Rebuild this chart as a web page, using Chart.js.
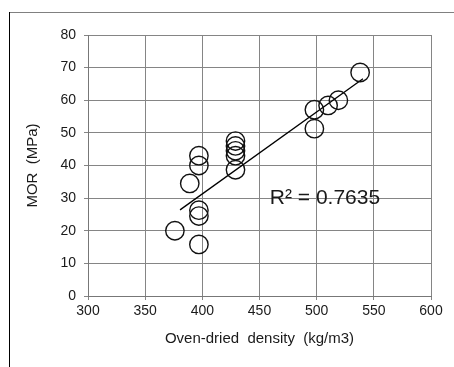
<!DOCTYPE html>
<html>
<head>
<meta charset="utf-8">
<script src="https://cdn.jsdelivr.net/npm/chart.js@4"></script>
<style>
  html, body { margin: 0; padding: 0; background: #fff; }
  #wrap { width: 454px; height: 367px; }
</style>
</head>
<body>
<div id="wrap"><canvas id="chart" width="454" height="367"></canvas></div>
<script>
// density (kg/m3) and MOR (MPa)
const density = [376, 389, 397, 397, 397, 397, 397, 429, 429, 429, 429, 429, 498, 498, 510, 519, 538];
const mor = [20, 34.5, 43, 40, 26.3, 24.5, 15.8, 47.5, 46, 44.5, 43, 38.7, 57.1, 51.3, 58.4, 60, 68.5];

// linear trend line end points
const trendX = [380.5, 540.5];
const trendY = [26.4, 66.6];

const xTicks = [300, 350, 400, 450, 500, 550, 600];
const yTicks = [0, 10, 20, 30, 40, 50, 60, 70, 80];

const r2Label = 'R² = 0.7635';
const r2At = { x: 459, y: 30.1 };

const points = density.map((d, i) => ({ x: d, y: mor[i] }));
const trend = trendX.map((d, i) => ({ x: d, y: trendY[i] }));

const gridColor = '#858585';
const tickFont = { family: 'Liberation Sans, Arial, sans-serif', size: 14 };
const titleFont = { family: 'Liberation Sans, Arial, sans-serif', size: 15 };

// frame around the figure (top + left edges only, like the source image)
const framePlugin = {
  id: 'frame',
  beforeDraw(chart) {
    const ctx = chart.ctx;
    ctx.save();
    ctx.lineWidth = 1;
    ctx.strokeStyle = '#808080';
    ctx.beginPath();
    ctx.moveTo(9, 12.5);
    ctx.lineTo(454, 12.5);
    ctx.stroke();
    ctx.strokeStyle = '#000';
    ctx.beginPath();
    ctx.moveTo(9.5, 12);
    ctx.lineTo(9.5, 367);
    ctx.stroke();
    ctx.restore();
  }
};

// R² text, placed on the data scales
const r2Plugin = {
  id: 'r2',
  afterDatasetsDraw(chart) {
    const ctx = chart.ctx;
    const px = chart.scales.x.getPixelForValue(r2At.x);
    const py = chart.scales.y.getPixelForValue(r2At.y);
    ctx.save();
    ctx.font = '21px Liberation Sans, Arial, sans-serif';
    ctx.fillStyle = '#1a1a1a';
    ctx.textBaseline = 'middle';
    ctx.textAlign = 'left';
    ctx.fillText(r2Label, px, py);
    ctx.restore();
  }
};

new Chart(document.getElementById('chart'), {
  type: 'scatter',
  data: {
    datasets: [
      {
        label: 'MOR',
        data: points,
        pointStyle: 'circle',
        pointRadius: 9.2,
        pointHoverRadius: 9.2,
        borderColor: '#111',
        borderWidth: 1.4,
        backgroundColor: 'rgba(0,0,0,0)'
      },
      {
        label: 'trend',
        type: 'line',
        data: trend,
        borderColor: '#000',
        borderWidth: 1.3,
        pointRadius: 0,
        fill: false
      }
    ]
  },
  options: {
    responsive: false,
    animation: false,
    events: [],
    layout: { padding: { left: 0, top: 35, right: 23, bottom: 0 } },
    plugins: {
      legend: { display: false },
      tooltip: { enabled: false }
    },
    scales: {
      x: {
        type: 'linear',
        min: 300,
        max: 600,
        afterBuildTicks(scale) { scale.ticks = xTicks.map(v => ({ value: v })); },
        afterFit(scale) { scale.height = 71; },
        grid: { color: gridColor, lineWidth: 1, tickLength: 4 },
        border: { color: '#777', width: 1 },
        ticks: { font: tickFont, color: '#1a1a1a', padding: 3, maxRotation: 0 },
        title: {
          display: true,
          text: 'Oven-dried  density  (kg/m3)',
          font: titleFont,
          color: '#1a1a1a',
          padding: { top: 0, bottom: 19 }
        }
      },
      y: {
        type: 'linear',
        min: 0,
        max: 80,
        afterBuildTicks(scale) { scale.ticks = yTicks.map(v => ({ value: v })); },
        afterFit(scale) { scale.width = 88; },
        grid: { color: gridColor, lineWidth: 1, tickLength: 4 },
        border: { color: '#777', width: 1 },
        ticks: { font: tickFont, color: '#1a1a1a', padding: 8 },
        title: {
          display: true,
          text: 'MOR  (MPa)',
          font: titleFont,
          color: '#1a1a1a',
          padding: { top: 24, bottom: 0 }
        }
      }
    }
  },
  plugins: [framePlugin, r2Plugin]
});
</script>
</body>
</html>
